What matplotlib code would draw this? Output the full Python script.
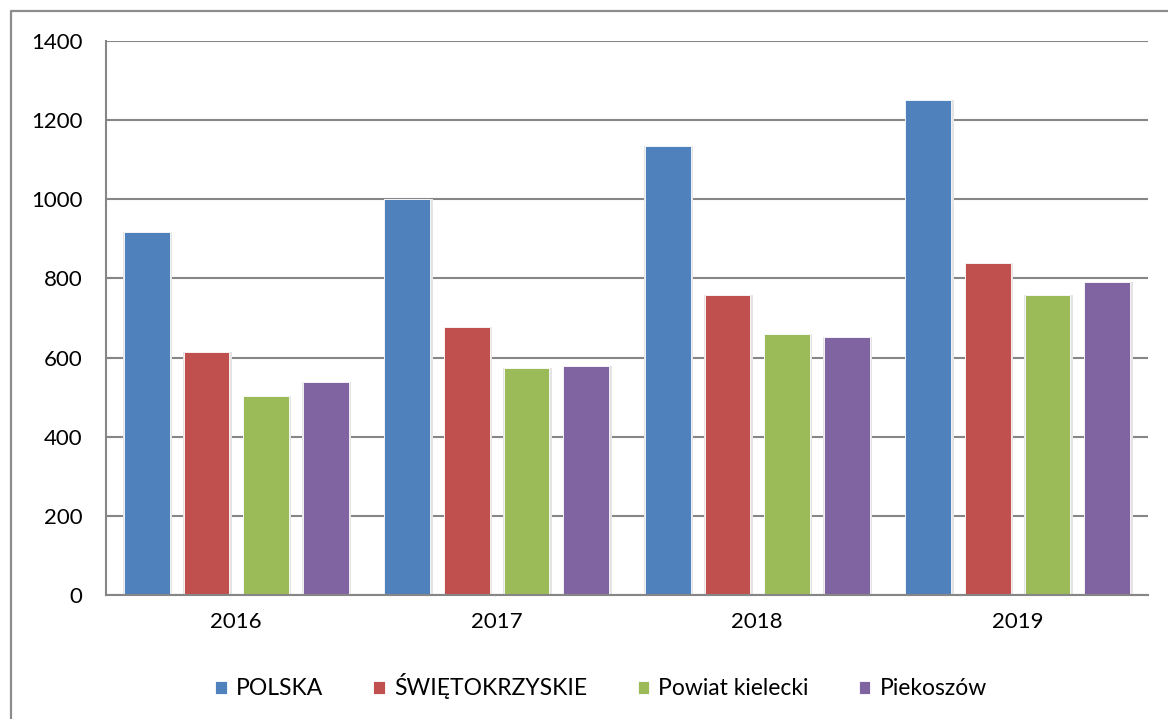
import matplotlib
matplotlib.use("Agg")
import matplotlib.pyplot as plt
import numpy as np

plt.rcParams['font.family'] = ['Lato', 'DejaVu Sans']

years = ["2016", "2017", "2018", "2019"]
series = ["POLSKA", "ŚWIĘTOKRZYSKIE", "Powiat kielecki", "Piekoszów"]
polska = [917, 1000, 1135, 1251]
swietokrzyskie = [614, 677, 758, 839]
powiat = [503, 574, 660, 758]
piekoszow = [538, 579, 652, 791]
colors = ["#4F81BD", "#C0504D", "#9BBB59", "#8064A2"]

values = [polska, swietokrzyskie, powiat, piekoszow]

fig = plt.figure(figsize=(11.68, 7.19), dpi=100)

# background axes for the outer chart border (left and top edges visible)
bg = fig.add_axes([0, 0, 1, 1], zorder=-1)
bg.set_xlim(0, 1168)
bg.set_ylim(719, 0)
bg.axis("off")
bg.plot([10.5, 10.5, 1168], [719, 10.5, 10.5], color="#8c8c8c",
        linewidth=1.6, clip_on=False)

ax = fig.add_axes([106/1168, 1 - 595/719, 1042/1168, 554/719])
ax.patch.set_alpha(0)

x = np.arange(len(years))
step = 0.229
width = 0.175
for i, (name, vals) in enumerate(zip(series, values)):
    pos = x + (i - 1.5) * step
    # soft shadow
    ax.bar(pos + 0.004, vals, width + 0.012, color="#e4e4e4", zorder=2,
           linewidth=0)
    ax.bar(pos, vals, width, color=colors[i], label=name, zorder=3,
           edgecolor="white", linewidth=0.6)

ax.set_xlim(-0.5, 3.5)
ax.set_ylim(0, 1400)
ax.set_yticks(range(0, 1401, 200))
ax.set_xticks(x)
ax.set_xticklabels(years)
ax.tick_params(axis="both", length=0, labelsize=16, colors="black")
ax.tick_params(axis="y", pad=17)
ax.tick_params(axis="x", pad=12)
ax.grid(axis="y", color="#868686", linewidth=1.5, zorder=1)
for s in ["top", "right"]:
    ax.spines[s].set_visible(False)
for s in ["left", "bottom"]:
    ax.spines[s].set_color("#868686")
    ax.spines[s].set_linewidth(1.5)
    ax.spines[s].set_zorder(4)

ax.legend(loc="center", bbox_to_anchor=(0.475, -0.165), ncol=4, frameon=False,
          fontsize=16.5, handlelength=0.5, handleheight=0.5, handletextpad=0.4,
          columnspacing=2.2)

fig.savefig("out.png", dpi=100)
